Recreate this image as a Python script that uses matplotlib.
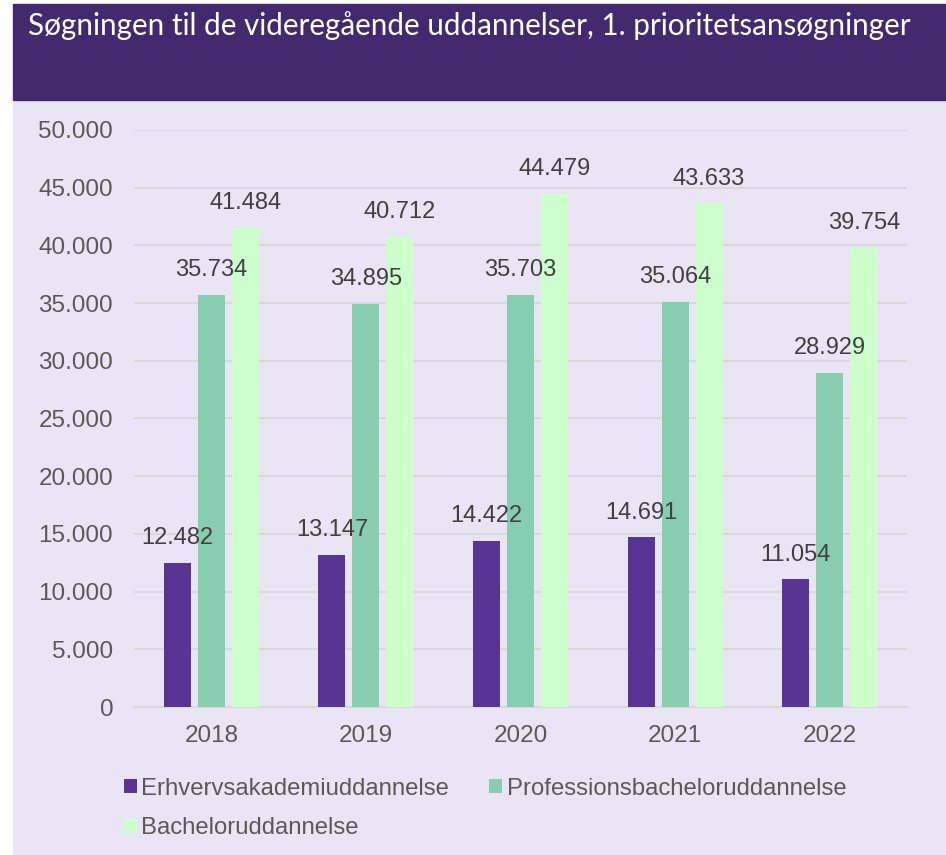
import numpy as np
import matplotlib.pyplot as plt
from matplotlib.patches import Rectangle

# Data
years = ["2018", "2019", "2020", "2021", "2022"]
erhverv = [12482, 13147, 14422, 14691, 11054]
profession = [35734, 34895, 35703, 35064, 28929]
bachelor = [41484, 40712, 44479, 43633, 39754]
series_names = ["Erhvervsakademiuddannelse", "Professionsbacheloruddannelse", "Bacheloruddannelse"]
colors = ["#563594", "#87cdb0", "#ccffcc"]

title = "Søgningen til de videregående uddannelser, 1. prioritetsansøgninger"

W, H = 946, 855
fig = plt.figure(figsize=(W / 100, H / 100), dpi=100, facecolor="white")

# background panels
fig.patches.append(Rectangle((13 / W, 0), 1 - 13 / W, 1 - 100 / H,
                             transform=fig.transFigure, color="#e9e5f4", zorder=-2))
fig.patches.append(Rectangle((13 / W, 1 - 100 / H), 1 - 13 / W, 96 / H,
                             transform=fig.transFigure, color="#43296d", zorder=-2))
fig.text(28 / W, 1 - 26 / H, title, color="white", fontsize=21.3,
         family="Lato", va="center", ha="left")

ax = fig.add_axes([134 / W, 1 - 707 / H, (907 - 134) / W, (707 - 130) / H], zorder=1)
ax.set_facecolor("none")

x = np.arange(len(years))
width = 0.175
step = 0.22
handles = []
for i, (vals, name, c) in enumerate(zip([erhverv, profession, bachelor], series_names, colors)):
    bars = ax.bar(x + (i - 1) * step, vals, width, color=c, label=name, zorder=3)
    handles.append(bars)
    for xi, v in zip(x + (i - 1) * step, vals):
        ax.annotate(f"{v:,}".replace(",", "."), (xi, v), xytext=(0, 10),
                    textcoords="offset points", ha="center", va="bottom",
                    fontsize=17, color="#404040", family="Liberation Sans", zorder=4)

ax.set_xlim(-0.5, len(years) - 0.5)
ax.set_ylim(0, 50000)
ax.set_yticks(range(0, 50001, 5000))
ax.set_yticklabels([f"{v:,}".replace(",", ".") for v in range(0, 50001, 5000)])
ax.set_xticks(x)
ax.set_xticklabels(years)
ax.tick_params(length=0, labelsize=17.5, labelcolor="#595959")
for lab in ax.get_xticklabels() + ax.get_yticklabels():
    lab.set_family("Liberation Sans")
ax.tick_params(axis="x", pad=13)
ax.tick_params(axis="y", pad=15)
ax.grid(axis="y", color="#d9d9d9", linewidth=1.5, zorder=0)
for s in ["top", "right", "left"]:
    ax.spines[s].set_visible(False)
ax.spines["bottom"].set_color("#d9d9d9")
ax.spines["bottom"].set_linewidth(1.5)

order = [0, 2, 1]
leg = fig.legend([handles[i] for i in order], [series_names[i] for i in order],
                 ncol=2, loc="upper left", bbox_to_anchor=(102 / W, 1 - 756 / H),
                 frameon=False, handlelength=0.55, handleheight=0.55,
                 handletextpad=0.2, columnspacing=1.65, labelspacing=0.75,
                 prop={"family": "Liberation Sans", "size": 17.2})
for t in leg.get_texts():
    t.set_color("#595959")

fig.savefig("out.png", dpi=100)
